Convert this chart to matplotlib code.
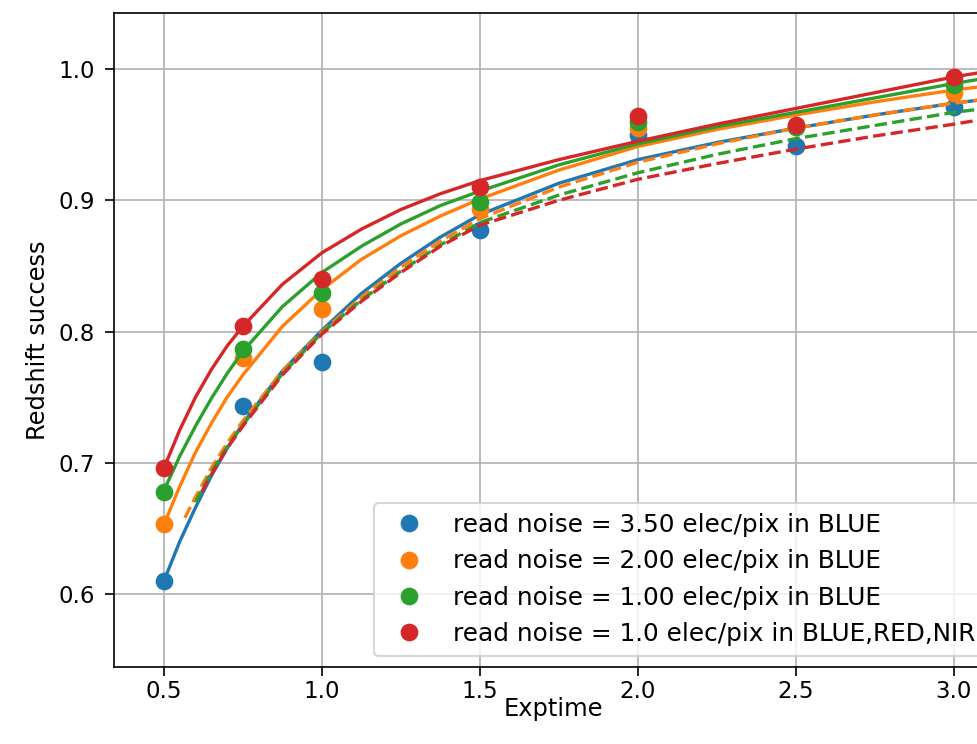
import numpy as np
import matplotlib
matplotlib.use('Agg')
import matplotlib.pyplot as plt
# ================================================
# MEASURED REDSHIFT SUCCESS
# ================================================
exptime = [0.5, 0.75, 1.0, 1.5, 2.0, 2.5, 3.0]
succ_blue35 = [0.610, 0.743, 0.777, 0.877, 0.950, 0.941, 0.971]
succ_blue20 = [0.653, 0.780, 0.817, 0.893, 0.955, 0.956, 0.982]
succ_blue10 = [0.678, 0.787, 0.829, 0.899, 0.960, 0.956, 0.988]
succ_all10  = [0.696, 0.804, 0.840, 0.910, 0.964, 0.957, 0.994]
labels = ['read noise = 3.50 elec/pix in BLUE',
          'read noise = 2.00 elec/pix in BLUE',
          'read noise = 1.00 elec/pix in BLUE',
          'read noise = 1.0 elec/pix in BLUE,RED,NIR']
# ================================================
# FITTED CURVES (solid = model 1, dashed = model 2)
# ================================================
t_fit = [0.5, 0.55, 0.6, 0.65, 0.7, 0.75, 0.875, 1.0, 1.125, 1.25, 1.375, 1.5,
         1.75, 2.0, 2.25, 2.5, 2.75, 3.0, 3.1]
fit_blue35 = [0.610, 0.640, 0.666, 0.690, 0.711, 0.730, 0.770, 0.801, 0.829, 0.852, 0.872, 0.889,
              0.913, 0.931, 0.944, 0.955, 0.965, 0.974, 0.977]
fit_blue20 = [0.653, 0.682, 0.708, 0.730, 0.750, 0.767, 0.804, 0.832, 0.855, 0.873, 0.888, 0.901,
              0.923, 0.941, 0.954, 0.965, 0.975, 0.984, 0.987]
fit_blue10 = [0.679, 0.705, 0.728, 0.749, 0.768, 0.785, 0.819, 0.845, 0.865, 0.882, 0.896, 0.907,
              0.927, 0.943, 0.956, 0.967, 0.978, 0.989, 0.993]
fit_all10  = [0.696, 0.725, 0.750, 0.771, 0.789, 0.804, 0.836, 0.860, 0.878, 0.893, 0.905, 0.915,
              0.931, 0.945, 0.958, 0.970, 0.982, 0.994, 0.998]

t_dash_b20 = [0.566, 0.6, 0.65, 0.7, 0.75, 0.875, 1.0, 1.125, 1.25, 1.375, 1.5,
              1.75, 2.0, 2.25, 2.5, 2.75, 3.0, 3.1]
dash_blue20 = [0.658, 0.674, 0.696, 0.715, 0.732, 0.770, 0.800, 0.826, 0.849, 0.869, 0.886,
               0.910, 0.929, 0.943, 0.955, 0.965, 0.974, 0.977]
t_dash_b10 = [0.6, 0.65, 0.7, 0.75, 0.875, 1.0, 1.125, 1.25, 1.375, 1.5,
              1.75, 2.0, 2.25, 2.5, 2.75, 3.0, 3.1]
dash_blue10 = [0.670, 0.693, 0.712, 0.729, 0.768, 0.799, 0.824, 0.846, 0.866, 0.883,
               0.904, 0.921, 0.935, 0.947, 0.957, 0.967, 0.970]
t_dash_a10 = [0.62, 0.65, 0.7, 0.75, 0.875, 1.0, 1.125, 1.25, 1.375, 1.5,
              1.75, 2.0, 2.25, 2.5, 2.75, 3.0, 3.1]
dash_all10 = [0.678, 0.691, 0.711, 0.728, 0.767, 0.798, 0.823, 0.845, 0.865, 0.881,
              0.900, 0.916, 0.928, 0.939, 0.949, 0.958, 0.962]
# ================================================
W, H, dpi = 977, 744, 150
plt.rcParams['font.size'] = 11.6
fig = plt.figure(figsize=(W/dpi, H/dpi), dpi=dpi)
xmin, xmax = 0.342, 3.12
ymin, ymax = 0.5444, 1.0427
ax = fig.add_axes([114/W, 1 - 667/H, (xmax - xmin)*316/W, 654/H])

points = [succ_blue35, succ_blue20, succ_blue10, succ_all10]
solid  = [fit_blue35, fit_blue20, fit_blue10, fit_all10]
dashed = [None, (t_dash_b20, dash_blue20), (t_dash_b10, dash_blue10), (t_dash_a10, dash_all10)]
cols   = ['C0', 'C1', 'C2', 'C3']

for k in range(4):
    ax.plot(exptime, points[k], 'o', color=cols[k], ms=7.5, label=labels[k])
    ax.plot(t_fit, solid[k], '-', color=cols[k], lw=1.6)
    if dashed[k] is not None:
        ax.plot(dashed[k][0], dashed[k][1], '--', color=cols[k], lw=1.6)

ax.set_xlim(xmin, xmax)
ax.set_ylim(ymin, ymax)
ax.set_xticks([0.5, 1.0, 1.5, 2.0, 2.5, 3.0])
ax.set_yticks([0.6, 0.7, 0.8, 0.9, 1.0])
ax.tick_params(axis='both', length=4.3, labelsize=11)
ax.tick_params(axis='y', pad=5)
ax.tick_params(axis='x', pad=2)
ax.grid(True)
ax.set_xlabel('Exptime', labelpad=-3)
ax.set_ylabel('Redshift success')
ax.legend(loc='lower left', bbox_to_anchor=(374/W, 88/H), bbox_transform=fig.transFigure,
          borderaxespad=0, fontsize=11.9)
plt.savefig('out.png', dpi=dpi)
plt.close()
